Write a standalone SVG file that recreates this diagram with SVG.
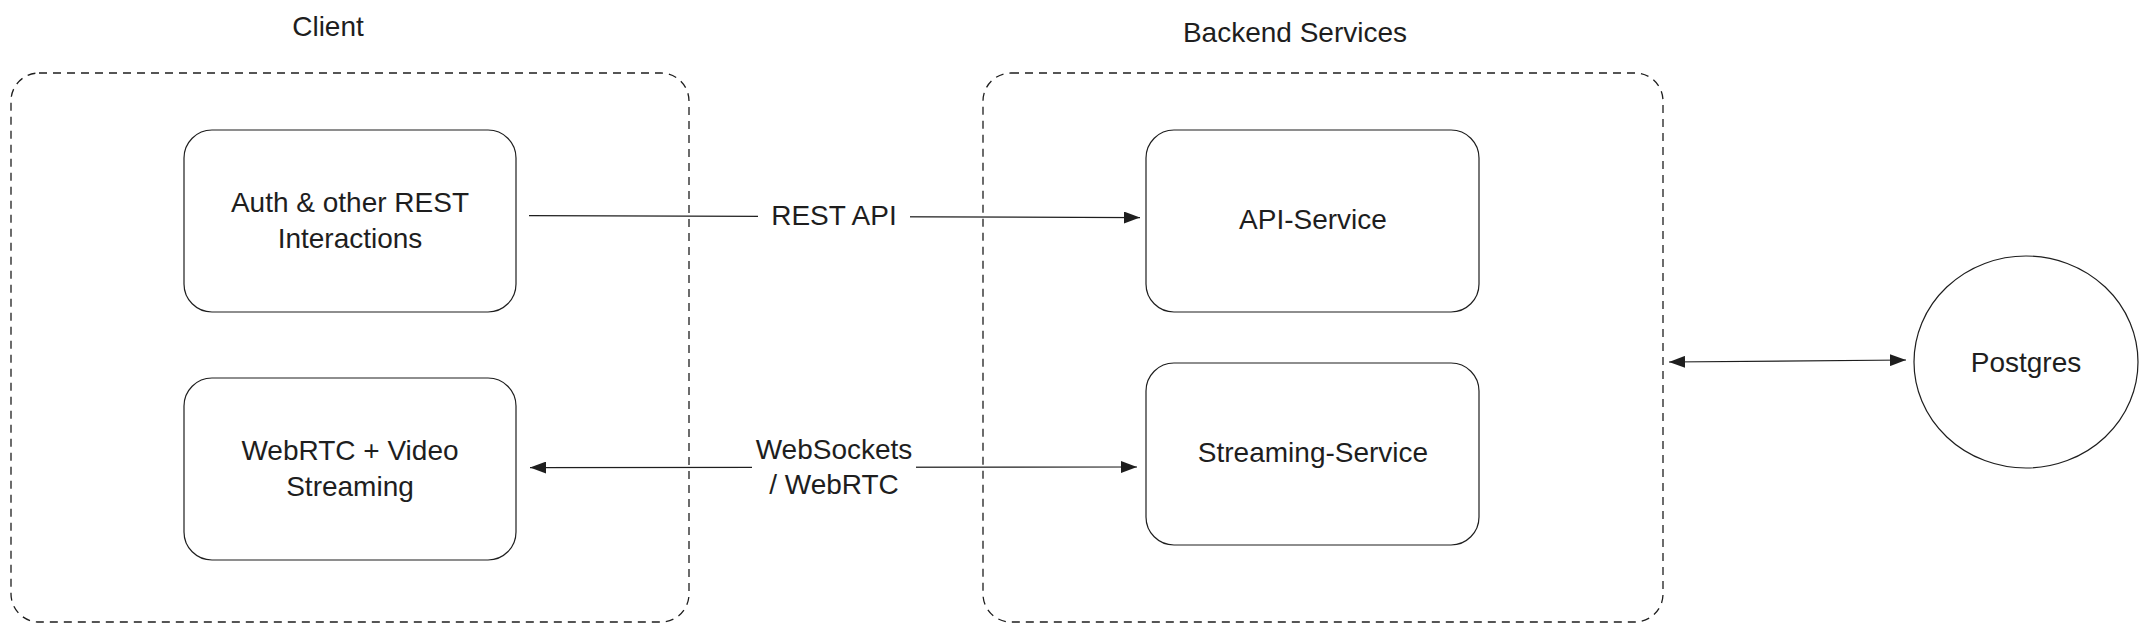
<svg xmlns="http://www.w3.org/2000/svg" width="2148" height="632" viewBox="0 0 2148 632">
<style>
  .grp { fill: none; stroke: #1e1e1e; stroke-width: 1.3; stroke-dasharray: 8 6; }
  .box { fill: #ffffff; stroke: #1e1e1e; stroke-width: 1.2; }
  .txt { font-family: "Liberation Sans", Arial, sans-serif; font-size: 28px; fill: #1e1e1e; text-anchor: middle; dominant-baseline: central; }
  .edge { fill: none; stroke: #1e1e1e; stroke-width: 1.2; }
  .lblbg { fill: #ffffff; stroke: none; }
</style>
<defs>
  <marker id="tri" markerUnits="userSpaceOnUse" markerWidth="16" markerHeight="12" refX="16" refY="6" orient="auto-start-reverse" viewBox="0 0 16 12">
    <path d="M0,0 L16,6 L0,12 z" fill="#1e1e1e"/>
  </marker>
</defs>
<rect width="2148" height="632" fill="#ffffff"/>

<g id="client-group">
  <rect class="grp" x="11" y="73" width="678" height="549" rx="28" ry="28"/>
  <text class="txt" x="328" y="26">Client</text>
</g>
<g id="backend-group">
  <rect class="grp" x="983" y="73" width="680" height="549" rx="28" ry="28"/>
  <text class="txt" x="1295" y="32">Backend Services</text>
</g>

<g id="auth">
  <rect class="box" x="184" y="130" width="332" height="182" rx="28" ry="28"/>
  <text class="txt" x="350" y="202">Auth &amp; other REST</text>
  <text class="txt" x="350" y="238">Interactions</text>
</g>
<g id="webrtc">
  <rect class="box" x="184" y="378" width="332" height="182" rx="28" ry="28"/>
  <text class="txt" x="350" y="450">WebRTC + Video</text>
  <text class="txt" x="350" y="486">Streaming</text>
</g>
<g id="api-service">
  <rect class="box" x="1146" y="130" width="333" height="182" rx="28" ry="28"/>
  <text class="txt" x="1313" y="219">API-Service</text>
</g>
<g id="streaming-service">
  <rect class="box" x="1146" y="363" width="333" height="182" rx="28" ry="28"/>
  <text class="txt" x="1313" y="452">Streaming-Service</text>
</g>
<g id="postgres">
  <ellipse class="box" cx="2026" cy="362" rx="112" ry="106"/>
  <text class="txt" x="2026" y="362">Postgres</text>
</g>

<g id="connectors">
  <path class="edge" d="M529,215.6 L1140,217.6" marker-end="url(#tri)"/>
  <rect class="lblbg" x="758" y="198" width="152" height="36"/>
  <text class="txt" x="834" y="215">REST API</text>

  <path class="edge" d="M530,467.6 L1137,467" marker-start="url(#tri)" marker-end="url(#tri)"/>
  <rect class="lblbg" x="752" y="430" width="164" height="72"/>
  <text class="txt" x="834" y="449">WebSockets</text>
  <text class="txt" x="834" y="484">/ WebRTC</text>

  <path class="edge" d="M1669,362 L1906,360" marker-start="url(#tri)" marker-end="url(#tri)"/>
</g>
</svg>
